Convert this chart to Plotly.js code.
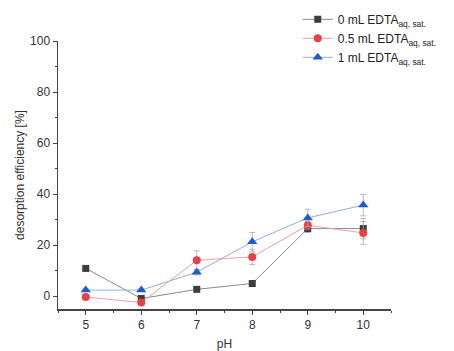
<!DOCTYPE html>
<html><head><meta charset="utf-8">
<script src="https://cdn.plot.ly/plotly-3.0.1.min.js"></script>
<style>body{margin:0;background:#fff}#chart{width:454px;height:351px}</style>
</head><body><div id="chart"></div>
<script>
const pH = [5, 6, 7, 8, 9, 10];
const names = ['0 mL EDTA<sub>aq, sat.</sub>', '0.5 mL EDTA<sub>aq, sat.</sub>', '1 mL EDTA<sub>aq, sat.</sub>'];
const eff0 = [10.9, -0.9, 2.7, 5.0, 26.5, 26.5];
const err0 = [0.6, 0.6, 0.6, 0.8, 1.5, 4.0];
const eff05 = [-0.3, -2.5, 14.1, 15.4, 27.8, 24.8];
const err05 = [0.5, 0.6, 3.7, 3.0, 1.5, 4.5];
const eff1 = [2.4, 2.4, 9.4, 21.3, 30.7, 35.7];
const err1 = [0.5, 0.5, 1.0, 3.7, 3.4, 4.2];

function tr(y, e, name, mcol, lcol, sym, size) {
  return {
    x: pH, y: y, name: name, type: 'scatter', mode: 'lines+markers',
    line: {color: lcol, width: 1},
    marker: {color: mcol, symbol: sym, size: size},
    error_y: {type: 'data', array: e, visible: true, color: 'rgba(170,170,170,0.8)', thickness: 1, width: 3}
  };
}
const data = [
  tr(eff0, err0, names[0], '#3d3d3d', '#8a8a8a', 'square', 7),
  tr(eff05, err05, names[1], '#e8404a', '#f0a0a0', 'circle', 8),
  tr(eff1, err1, names[2], '#1f5cc8', '#90b0e0', 'triangle-up', 9)
];
const axisCommon = {
  showline: true, linecolor: '#444', linewidth: 1.5, ticks: 'outside', ticklen: 4, tickcolor: '#444',
  showgrid: false, zeroline: false, tickfont: {size: 12, color: '#333'}
};
const layout = {
  width: 454, height: 351,
  margin: {l: 58, r: 63, t: 41, b: 42, autoexpand: false},
  paper_bgcolor: '#fff', plot_bgcolor: '#fff',
  font: {family: 'Liberation Sans, Arial, sans-serif', color: '#333', size: 12},
  xaxis: Object.assign({}, axisCommon, {range: [4.5, 10.5], dtick: 1, tick0: 5,
    minor: {ticks: 'outside', ticklen: 2, tickcolor: '#444', dtick: 0.5},
    title: {text: 'pH', font: {size: 12}, standoff: 8}}),
  yaxis: Object.assign({}, axisCommon, {range: [-5, 100], dtick: 20, tick0: 0,
    minor: {ticks: 'outside', ticklen: 2, tickcolor: '#444', dtick: 10},
    title: {text: 'desorption efficiency [%]', font: {size: 12}, standoff: 3}}),
  showlegend: true,
  legend: {x: 0.72, y: 1.135, xanchor: 'left', yanchor: 'top', bgcolor: 'rgba(0,0,0,0)',
    font: {size: 12, color: '#222'}, tracegroupgap: 0, itemwidth: 30}
};
Plotly.newPlot('chart', data, layout, {displayModeBar: false, staticPlot: true});
</script></body></html>
